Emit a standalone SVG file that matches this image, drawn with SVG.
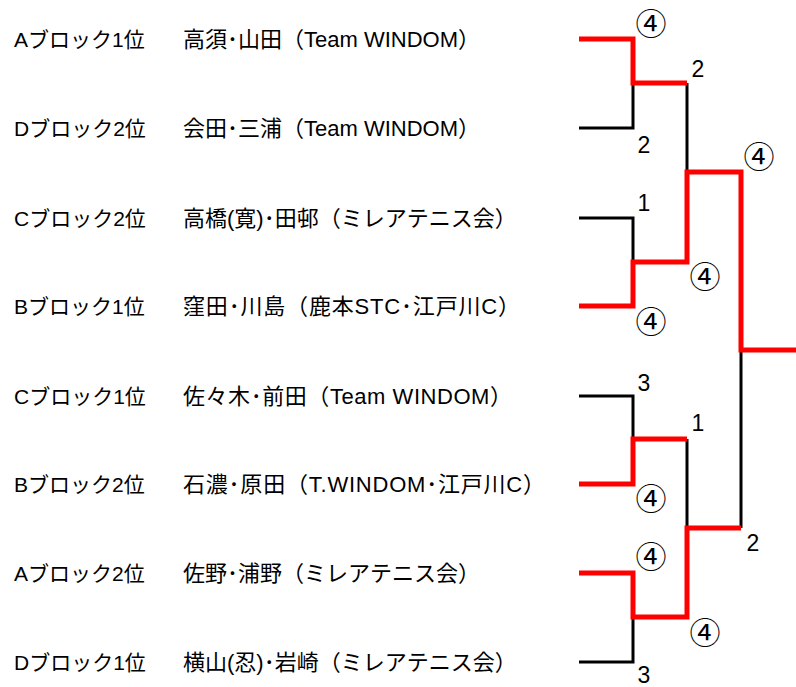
<svg xmlns="http://www.w3.org/2000/svg" width="796" height="687" viewBox="0 0 796 687">
<style>
.t{font-family:"Liberation Sans","Noto Sans CJK JP",sans-serif;font-size:21px;fill:#000}
.n{font-family:"Liberation Sans","Noto Sans CJK JP",sans-serif;font-size:22px;fill:#000}
.s{font-family:"Liberation Sans","Noto Sans CJK JP",sans-serif;font-size:23px;fill:#000;text-anchor:middle}
.c{font-family:"Noto Sans CJK JP",sans-serif;font-size:31px;fill:#000;text-anchor:middle}
.lb{fill:none;stroke:#000;stroke-width:3;stroke-linejoin:miter}
.lr{fill:none;stroke:#ff0000;stroke-width:5;stroke-linejoin:miter}
</style>
<rect width="796" height="687" fill="#fff"/>
<g id="connectors">
<path class="lb" d="M579,128 H633 V83"/>
<path class="lb" d="M579,218 H633 V262"/>
<path class="lb" d="M579,396 H633 V439"/>
<path class="lb" d="M579,662 H633 V617"/>
<path class="lb" d="M687,83 V172"/>
<path class="lb" d="M687,439 V528"/>
<path class="lb" d="M741,528 V350"/>
<path class="lr" d="M579,39 H633 V83 H687"/>
<path class="lr" d="M579,306 H633 V262 H687 V172 H741 V350 H796"/>
<path class="lr" d="M579,484 H633 V439 H687"/>
<path class="lr" d="M579,573 H633 V617 H687 V528 H741"/>
</g>
<g id="team1"><text class="t" x="14" y="46.5">Aブロック1位</text><text class="n" x="183" y="46.8">高須･山田（Team WINDOM）</text></g>
<g id="team2"><text class="t" x="14" y="135.5">Dブロック2位</text><text class="n" x="183" y="135.8">会田･三浦（Team WINDOM）</text></g>
<g id="team3"><text class="t" x="14" y="225.5">Cブロック2位</text><text class="n" x="183" y="225.8">高橋(寛)･田邨（ミレアテニス会）</text></g>
<g id="team4"><text class="t" x="14" y="313.5">Bブロック1位</text><text class="n" x="183" y="313.8" textLength="337" lengthAdjust="spacing">窪田･川島（鹿本STC･江戸川C）</text></g>
<g id="team5"><text class="t" x="14" y="403.5">Cブロック1位</text><text class="n" x="183" y="403.8" textLength="329" lengthAdjust="spacing">佐々木･前田（Team WINDOM）</text></g>
<g id="team6"><text class="t" x="14" y="491.5">Bブロック2位</text><text class="n" x="183" y="491.8" textLength="362" lengthAdjust="spacing">石濃･原田（T.WINDOM･江戸川C）</text></g>
<g id="team7"><text class="t" x="14" y="580.5">Aブロック2位</text><text class="n" x="183" y="580.8">佐野･浦野（ミレアテニス会）</text></g>
<g id="team8"><text class="t" x="14" y="669.5">Dブロック1位</text><text class="n" x="183" y="669.8">横山(忍)･岩崎（ミレアテニス会）</text></g>
<g id="scores">
<text class="c" x="651" y="35">④</text>
<text class="s" x="698" y="77">2</text>
<text class="s" x="644" y="153">2</text>
<text class="c" x="759" y="168">④</text>
<text class="s" x="644" y="211">1</text>
<text class="c" x="705" y="288">④</text>
<text class="c" x="651" y="333">④</text>
<text class="s" x="644" y="391">3</text>
<text class="s" x="698" y="431">1</text>
<text class="c" x="651" y="510">④</text>
<text class="s" x="753" y="551">2</text>
<text class="c" x="651" y="568">④</text>
<text class="c" x="705" y="644">④</text>
<text class="s" x="644" y="683">3</text>
</g>
</svg>
